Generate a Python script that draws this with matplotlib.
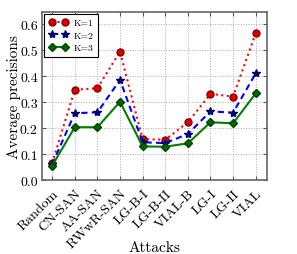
import numpy as np
import matplotlib
matplotlib.use('Agg')
import matplotlib.pyplot as plt

attacks = ['Random', 'CN-SAN', 'AA-SAN', 'RWwR-SAN', 'LG-B-I', 'LG-B-II',
           'VIAL-B', 'LG-I', 'LG-II', 'VIAL']
k1 = [0.065, 0.347, 0.353, 0.494, 0.157, 0.155, 0.222, 0.331, 0.321, 0.564]
k2 = [0.060, 0.257, 0.260, 0.385, 0.145, 0.142, 0.177, 0.264, 0.259, 0.410]
k3 = [0.055, 0.203, 0.203, 0.301, 0.129, 0.128, 0.141, 0.222, 0.218, 0.333]

plt.rcParams['font.family'] = 'cmr10'
plt.rcParams['axes.formatter.use_mathtext'] = True
plt.rcParams['mathtext.fontset'] = 'cm'

fig = plt.figure(figsize=(2.97, 2.55), dpi=100)
ax = fig.add_axes([42 / 297, 1 - 181 / 255, 225 / 297, 168.5 / 255])

xpos = np.arange(len(attacks))
ax.plot(xpos, k1, color='red', linestyle=':', linewidth=1.5, marker='o',
        markersize=5, markerfacecolor='#dd0000', markeredgecolor='#880000',
        label='K=1', zorder=3)
ax.plot(xpos, k2, color='blue', linestyle=(0, (3, 2)), linewidth=1.5, marker='*',
        markersize=6, markerfacecolor='#000088', markeredgecolor='#000066',
        label='K=2', zorder=3)
ax.plot(xpos, k3, color='green', linestyle='-', linewidth=1.5, marker='D',
        markersize=4.5, markerfacecolor='#006600', markeredgecolor='#004400',
        label='K=3', zorder=3)

ax.set_xlim(-0.45, 9.5)
ax.set_ylim(0, 0.648)
ax.set_xticks(xpos)
ax.set_xticklabels(attacks, rotation=45, ha='right', rotation_mode='anchor', fontsize=10)
ax.set_yticks(np.arange(0, 0.61, 0.1))
ax.set_yticklabels(['0.0', '0.1', '0.2', '0.3', '0.4', '0.5', '0.6'], fontsize=10)
ax.tick_params(direction='in', top=True, right=True, length=3, color='#555555', pad=3)
ax.tick_params(axis='x', pad=5)
ax.grid(True, color='#aaaaaa', linestyle=':', linewidth=0.7)
for s in ax.spines.values():
    s.set_color('#666666')
    s.set_linewidth(1.2)

ax.set_xlabel('Attacks', fontsize=11)
ax.xaxis.set_label_coords(0.5, -0.356)
ax.set_ylabel('Average precisions', fontsize=11)
ax.yaxis.set_label_coords(-0.095, 0.5)

leg = ax.legend(loc='upper left', fontsize=7, fancybox=False, framealpha=1,
                edgecolor='black', numpoints=2, handlelength=2.0,
                handletextpad=0.6, borderpad=0.45, labelspacing=0.4,
                borderaxespad=0.25)
leg.get_frame().set_linewidth(0.8)

fig.savefig('out.png', dpi=100)
